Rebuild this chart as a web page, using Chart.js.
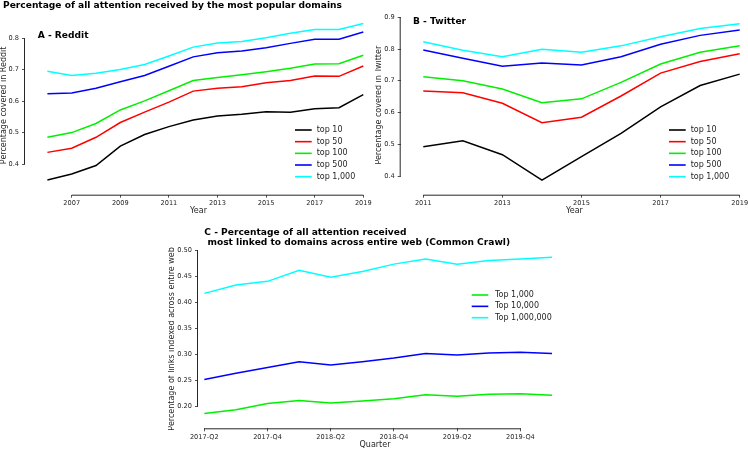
<!DOCTYPE html>
<html>
<head>
<meta charset="utf-8">
<script src="https://cdn.jsdelivr.net/npm/chart.js@4.4.1/dist/chart.umd.min.js"></script>
<style>
    body { margin: 0; background: #fff; width: 748px; height: 449px; overflow: hidden; position: relative; }
    canvas { position: absolute; }
</style>
</head>
<body>
<canvas id="chartA" width="372" height="215" style="left:0;top:0"></canvas>
<canvas id="chartB" width="373" height="215" style="left:375px;top:0"></canvas>
<canvas id="chartC" width="384" height="227" style="left:168px;top:222px"></canvas>
<script>
// --- Data ---
const redditYears = [2006, 2007, 2008, 2009, 2010, 2011, 2012, 2013, 2014, 2015, 2016, 2017, 2018, 2019];
const redditTop10 = [0.349, 0.368, 0.395, 0.457, 0.494, 0.519, 0.540, 0.553, 0.558, 0.566, 0.565, 0.576, 0.579, 0.621];
const redditTop50 = [0.437, 0.450, 0.485, 0.532, 0.565, 0.597, 0.632, 0.641, 0.646, 0.659, 0.666, 0.680, 0.679, 0.712];
const redditTop100 = [0.485, 0.500, 0.529, 0.572, 0.601, 0.633, 0.666, 0.675, 0.684, 0.694, 0.705, 0.718, 0.719, 0.746];
const redditTop500 = [0.624, 0.626, 0.641, 0.662, 0.682, 0.711, 0.741, 0.754, 0.760, 0.770, 0.784, 0.797, 0.797, 0.820];
const redditTop1000 = [0.695, 0.682, 0.689, 0.701, 0.717, 0.744, 0.772, 0.785, 0.790, 0.802, 0.816, 0.828, 0.828, 0.847];
const redditTicksX = [2007, 2009, 2011, 2013, 2015, 2017, 2019];
const redditTicksY = [0.4, 0.5, 0.6, 0.7, 0.8];

const twitterYears = [2011, 2012, 2013, 2014, 2015, 2016, 2017, 2018, 2019];
const twitterTop10 = [0.492, 0.511, 0.467, 0.387, 0.461, 0.534, 0.618, 0.685, 0.721];
const twitterTop50 = [0.668, 0.662, 0.629, 0.568, 0.585, 0.652, 0.724, 0.761, 0.785];
const twitterTop100 = [0.713, 0.700, 0.674, 0.631, 0.643, 0.695, 0.753, 0.790, 0.810];
const twitterTop500 = [0.797, 0.771, 0.746, 0.756, 0.750, 0.776, 0.815, 0.843, 0.860];
const twitterTop1000 = [0.823, 0.796, 0.776, 0.799, 0.790, 0.810, 0.839, 0.865, 0.880];
const twitterTicksX = [2011, 2013, 2015, 2017, 2019];
const twitterTicksY = [0.4, 0.5, 0.6, 0.7, 0.8, 0.9];

const quarters = ['2017-Q2', '2017-Q3', '2017-Q4', '2018-Q1', '2018-Q2', '2018-Q3',
                  '2018-Q4', '2019-Q1', '2019-Q2', '2019-Q3', '2019-Q4', '2020-Q1'];
const crawlTop1k = [0.187, 0.194, 0.206, 0.212, 0.207, 0.211, 0.215, 0.223, 0.220, 0.224, 0.225, 0.222];
const crawlTop10k = [0.252, 0.264, 0.275, 0.286, 0.280, 0.286, 0.293, 0.302, 0.299, 0.303, 0.304, 0.302];
const crawlTop1m = [0.417, 0.433, 0.440, 0.461, 0.448, 0.459, 0.473, 0.483, 0.473, 0.480, 0.483, 0.486];
const crawlTicksX = [0, 2, 4, 6, 8, 10];
const crawlTicksY = [0.20, 0.25, 0.30, 0.35, 0.40, 0.45, 0.50];

const topLabels = ['top 10', 'top 50', 'top 100', 'top 500', 'top 1,000'];
const topColors = ['#000000', '#ff0000', '#00f000', '#0000ff', '#00ffff'];
const crawlLabels = ['Top 1,000', 'Top 10,000', 'Top 1,000,000'];
const crawlColors = ['#00f000', '#0000ff', '#00ffff'];

const FONT = '"DejaVu Sans", "Liberation Sans", sans-serif';
const INK = '#262626';

// Spines trimmed to the tick range, panel titles and legend
const decorPlugin = {
    id: 'decor',
    afterDraw(chart, args, opts) {
        const ctx = chart.ctx;
        const xs = chart.scales.x, ys = chart.scales.y;
        ctx.save();
        ctx.strokeStyle = INK;
        ctx.lineWidth = 1;
        ctx.beginPath();
        ctx.moveTo(xs.getPixelForValue(opts.ticksX[0]), xs.top + 0.5);
        ctx.lineTo(xs.getPixelForValue(opts.ticksX[opts.ticksX.length - 1]), xs.top + 0.5);
        ctx.moveTo(ys.right - 0.5, ys.getPixelForValue(opts.ticksY[0]));
        ctx.lineTo(ys.right - 0.5, ys.getPixelForValue(opts.ticksY[opts.ticksY.length - 1]));
        ctx.stroke();

        ctx.fillStyle = '#000';
        ctx.textBaseline = 'middle';
        ctx.textAlign = 'left';
        (opts.texts || []).forEach(t => {
            ctx.font = 'bold 9.1px ' + FONT;
            ctx.fillText(t.text, t.x, t.y);
        });

        const lg = opts.legend;
        ctx.font = '8px ' + FONT;
        ctx.fillStyle = INK;
        chart.data.datasets.forEach((ds, i) => {
            const y = lg.y + i * lg.step;
            ctx.strokeStyle = ds.borderColor;
            ctx.lineWidth = 1.6;
            ctx.beginPath();
            ctx.moveTo(lg.x1, y);
            ctx.lineTo(lg.x2, y);
            ctx.stroke();
            ctx.fillText(ds.label, lg.xt, y);
        });
        ctx.restore();
    }
};

function makeChart(id, cfg) {
    const datasets = cfg.series.map((vals, i) => ({
        label: cfg.labels[i],
        data: vals.map((v, j) => ({ x: cfg.xs[j], y: v })),
        borderColor: cfg.colors[i],
        borderWidth: 1.5,
        pointRadius: 0,
        tension: 0,
        fill: false
    }));
    const tickFont = { family: FONT, size: 6.6 };
    const titleFont = { family: FONT, size: 8, lineHeight: 1 };
    return new Chart(document.getElementById(id), {
        type: 'line',
        data: { datasets },
        plugins: [decorPlugin],
        options: {
            responsive: false,
            animation: false,
            devicePixelRatio: 1,
            layout: { padding: { top: cfg.padTop, left: 0, right: 0, bottom: 0 } },
            plugins: {
                legend: { display: false },
                tooltip: { enabled: false },
                decor: { ticksX: cfg.ticksX, ticksY: cfg.ticksY, texts: cfg.texts, legend: cfg.legend }
            },
            scales: {
                x: {
                    type: 'linear',
                    bounds: 'data',
                    min: cfg.xMin, max: cfg.xMax,
                    afterBuildTicks: s => { s.ticks = cfg.ticksX.map(v => ({ value: v })); },
                    afterFit: s => { s.height = cfg.xHeight; s.paddingLeft = 0; s.paddingRight = 0; },
                    ticks: { font: tickFont, color: INK, padding: 2, autoSkip: false, maxRotation: 0, callback: cfg.xFormat },
                    grid: { display: true, drawOnChartArea: false, drawTicks: true, tickLength: 3, color: INK, lineWidth: 0.8 },
                    border: { display: false },
                    title: { display: true, text: cfg.xTitle, font: titleFont, color: INK, padding: 0 }
                },
                y: {
                    type: 'linear',
                    bounds: 'data',
                    min: cfg.yMin, max: cfg.yMax,
                    afterBuildTicks: s => { s.ticks = cfg.ticksY.map(v => ({ value: v })); },
                    afterFit: s => { s.width = cfg.yWidth; s.paddingTop = 0; s.paddingBottom = 0; },
                    ticks: { font: tickFont, color: INK, padding: 3, autoSkip: false, callback: cfg.yFormat },
                    grid: { display: true, drawOnChartArea: false, drawTicks: true, tickLength: 3, color: INK, lineWidth: 0.8 },
                    border: { display: false },
                    title: { display: true, text: cfg.yTitle, font: titleFont, color: INK, padding: 0 }
                }
            }
        }
    });
}

// A - Reddit
makeChart('chartA', {
    xs: redditYears,
    series: [redditTop10, redditTop50, redditTop100, redditTop500, redditTop1000],
    labels: topLabels, colors: topColors,
    ticksX: redditTicksX, ticksY: redditTicksY,
    xMin: 2005.078, xMax: 2019.358, yMin: 0.3023, yMax: 0.8711,
    padTop: 16, yWidth: 25, xHeight: 20.3,
    xFormat: v => String(v), yFormat: v => v.toFixed(1),
    xTitle: 'Year', yTitle: 'Percentage covered in Reddit',
    texts: [
        { text: 'Percentage of all attention received by the most popular domains', x: 3, y: 5.5 },
        { text: 'A - Reddit', x: 37.7, y: 35.7 }
    ],
    legend: { x1: 295, x2: 311.7, xt: 316.7, y: 130, step: 11.67 }
});

// B - Twitter
makeChart('chartB', {
    xs: twitterYears,
    series: [twitterTop10, twitterTop50, twitterTop100, twitterTop500, twitterTop1000],
    labels: topLabels, colors: topColors,
    ticksX: twitterTicksX, ticksY: twitterTicksY,
    xMin: 2010.429, xMax: 2019.21, yMin: 0.3411, yMax: 0.905,
    padTop: 15.7, yWidth: 25.7, xHeight: 20.3,
    xFormat: v => String(v), yFormat: v => v.toFixed(1),
    xTitle: 'Year', yTitle: 'Percentage covered in Twitter',
    texts: [{ text: 'B - Twitter', x: 38, y: 21.7 }],
    legend: { x1: 294, x2: 310.7, xt: 315.7, y: 130, step: 11.67 }
});

// C - Common Crawl
makeChart('chartC', {
    xs: quarters.map((q, i) => i),
    series: [crawlTop1k, crawlTop10k, crawlTop1m],
    labels: crawlLabels, colors: crawlColors,
    ticksX: crawlTicksX, ticksY: crawlTicksY,
    xMin: -0.2, xMax: 11.0, yMin: 0.1586, yMax: 0.501,
    padTop: 27.5, yWidth: 30, xHeight: 20.7,
    xFormat: v => quarters[v], yFormat: v => v.toFixed(2),
    xTitle: 'Quarter', yTitle: 'Percentage of links indexed across entire web',
    texts: [
        { text: 'C - Percentage of all attention received', x: 36.3, y: 10.5 },
        { text: ' most linked to domains across entire web (Common Crawl)', x: 36.3, y: 21 }
    ],
    legend: { x1: 303.7, x2: 320.3, xt: 327, y: 73, step: 11.35 }
});
</script>
</body>
</html>
